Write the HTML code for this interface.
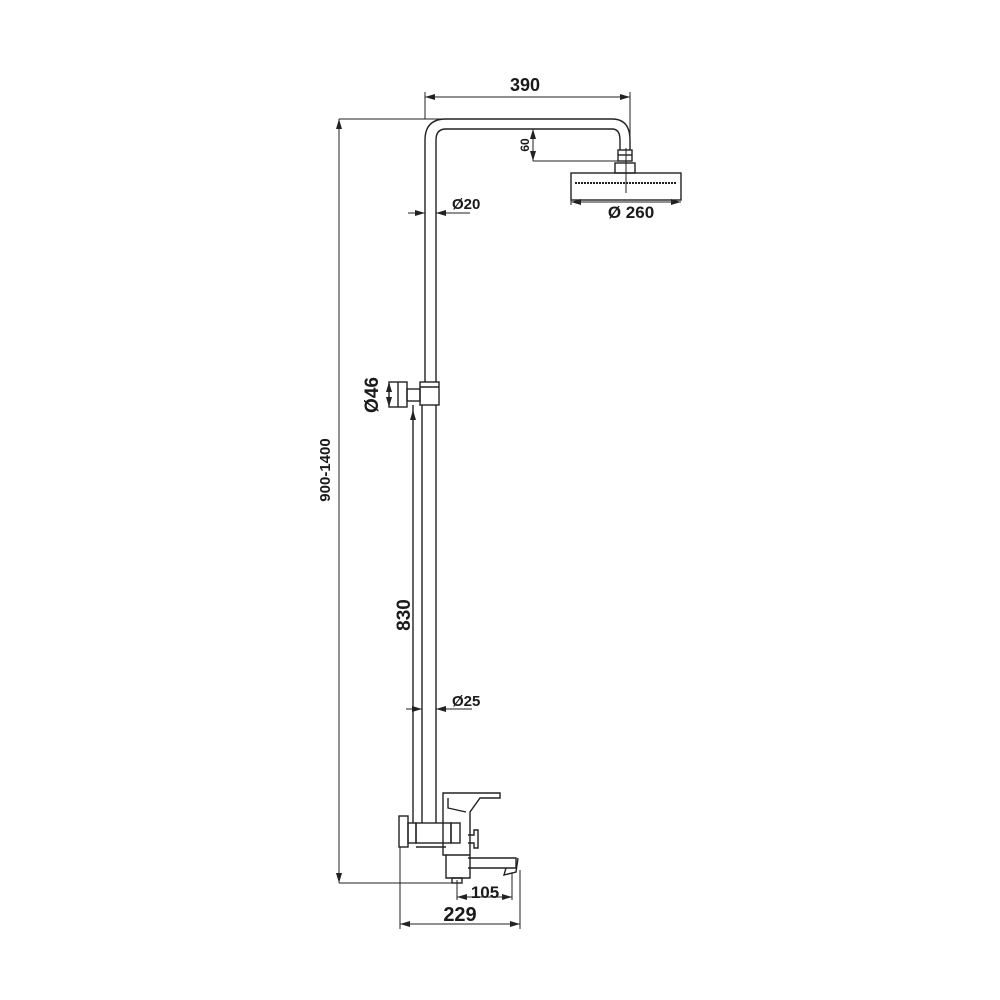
<!DOCTYPE html>
<html><head><style>body{margin:0;background:#fff}svg{display:block}text{font-family:"Liberation Sans",Arial,sans-serif;font-weight:bold;fill:#1a1a1a}</style></head>
<body>
<svg width="1000" height="1000" viewBox="0 0 1000 1000" xmlns="http://www.w3.org/2000/svg">
<defs><marker id="a" viewBox="0 0 10 6" refX="10" refY="3" markerWidth="10" markerHeight="6" orient="auto-start-reverse" markerUnits="userSpaceOnUse"><path d="M0,0 L10,3 L0,6z" fill="#222"/></marker></defs>
<g fill="none" stroke="#222" stroke-width="1.4">
<path d="M425,382 V140 Q425,119 446,119 H612 Q630,119 630,140 V150"/>
<path d="M436,382 V140 Q436,129 446,129 H612 Q620,129 620,140 V150"/>
<rect x="618" y="150" width="14" height="11"/>
<line x1="618" y1="155" x2="632" y2="155"/>
<rect x="615" y="163" width="20" height="10"/>
<rect x="571" y="173" width="110" height="27"/>
<line x1="575" y1="183" x2="677" y2="183" stroke-dasharray="2,1" stroke-width="2"/>
<line x1="626" y1="148" x2="626" y2="193" stroke-width="1"/>
<rect x="420" y="382" width="19" height="23"/>
<line x1="420" y1="387" x2="439" y2="387"/>
<rect x="407" y="389" width="13" height="12"/>
<rect x="389" y="382" width="18" height="25"/>
<line x1="398" y1="382" x2="398" y2="407"/>
<line x1="413" y1="405" x2="413" y2="823"/>
<line x1="422" y1="405" x2="422" y2="823"/>
<line x1="436" y1="405" x2="436" y2="823"/>
<rect x="399" y="816" width="9" height="31"/>
<rect x="408" y="823" width="8" height="20"/>
<rect x="416" y="823" width="35" height="20"/>
<line x1="416" y1="847" x2="446" y2="847"/>
<path d="M443,793 H500 V798 H480 L470,812 V878 H446 V855 H443 Z"/>
<path d="M448,798 L448,808 L466,812"/>
<rect x="451" y="823" width="9" height="20"/>
<path d="M468,835 H474 V830 H478 V848 H474 V843 H468"/>
<line x1="446" y1="855" x2="470" y2="855"/>
<rect x="452" y="878" width="10" height="5"/>
<path d="M468,858 H516 V868 H468"/>
<path d="M506,868 L504,875 L516,872 L518,858"/>
</g>
<g fill="none" stroke="#222" stroke-width="1">
<line x1="339" y1="119" x2="460" y2="119"/>
<line x1="339" y1="883" x2="455" y2="883"/>
<line x1="339" y1="119" x2="339" y2="883" marker-start="url(#a)" marker-end="url(#a)"/>
<line x1="425" y1="92" x2="425" y2="119"/>
<line x1="630" y1="92" x2="630" y2="150"/>
<line x1="425" y1="97" x2="630" y2="97" marker-start="url(#a)" marker-end="url(#a)"/>
<line x1="533" y1="129" x2="533" y2="161" marker-start="url(#a)" marker-end="url(#a)"/>
<line x1="533" y1="161" x2="618" y2="161"/>
<line x1="571" y1="200" x2="571" y2="205"/>
<line x1="571" y1="202" x2="681" y2="202" marker-start="url(#a)" marker-end="url(#a)"/>
<line x1="408" y1="213" x2="425" y2="213" marker-end="url(#a)"/>
<line x1="470" y1="213" x2="436" y2="213" marker-end="url(#a)"/>
<line x1="389" y1="382" x2="389" y2="407" marker-start="url(#a)" marker-end="url(#a)"/>
<line x1="413" y1="420" x2="413" y2="410" marker-end="url(#a)"/>
<line x1="406" y1="709" x2="422" y2="709" marker-end="url(#a)"/>
<line x1="472" y1="709" x2="436" y2="709" marker-end="url(#a)"/>
<line x1="457" y1="880" x2="457" y2="900"/>
<line x1="512" y1="873" x2="512" y2="900"/>
<line x1="457" y1="897" x2="512" y2="897" marker-start="url(#a)" marker-end="url(#a)"/>
<line x1="400" y1="847" x2="400" y2="929"/>
<line x1="520" y1="870" x2="520" y2="929"/>
<line x1="400" y1="924" x2="520" y2="924" marker-start="url(#a)" marker-end="url(#a)"/>
</g>
<text x="525" y="91" font-size="18" text-anchor="middle">390</text>
<text transform="translate(529,145) rotate(-90)" font-size="12" text-anchor="middle">60</text>
<text x="631" y="218" font-size="17" text-anchor="middle">Ø 260</text>
<text x="452" y="209" font-size="15">Ø20</text>
<text transform="translate(378,395) rotate(-90)" font-size="19" text-anchor="middle">Ø46</text>
<text transform="translate(330,470) rotate(-90)" font-size="15" text-anchor="middle">900-1400</text>
<text transform="translate(410,615) rotate(-90)" font-size="19" text-anchor="middle">830</text>
<text x="452" y="706" font-size="15">Ø25</text>
<text x="485" y="898" font-size="17" text-anchor="middle">105</text>
<text x="460" y="921" font-size="20" text-anchor="middle">229</text>
</svg>
</body></html>
